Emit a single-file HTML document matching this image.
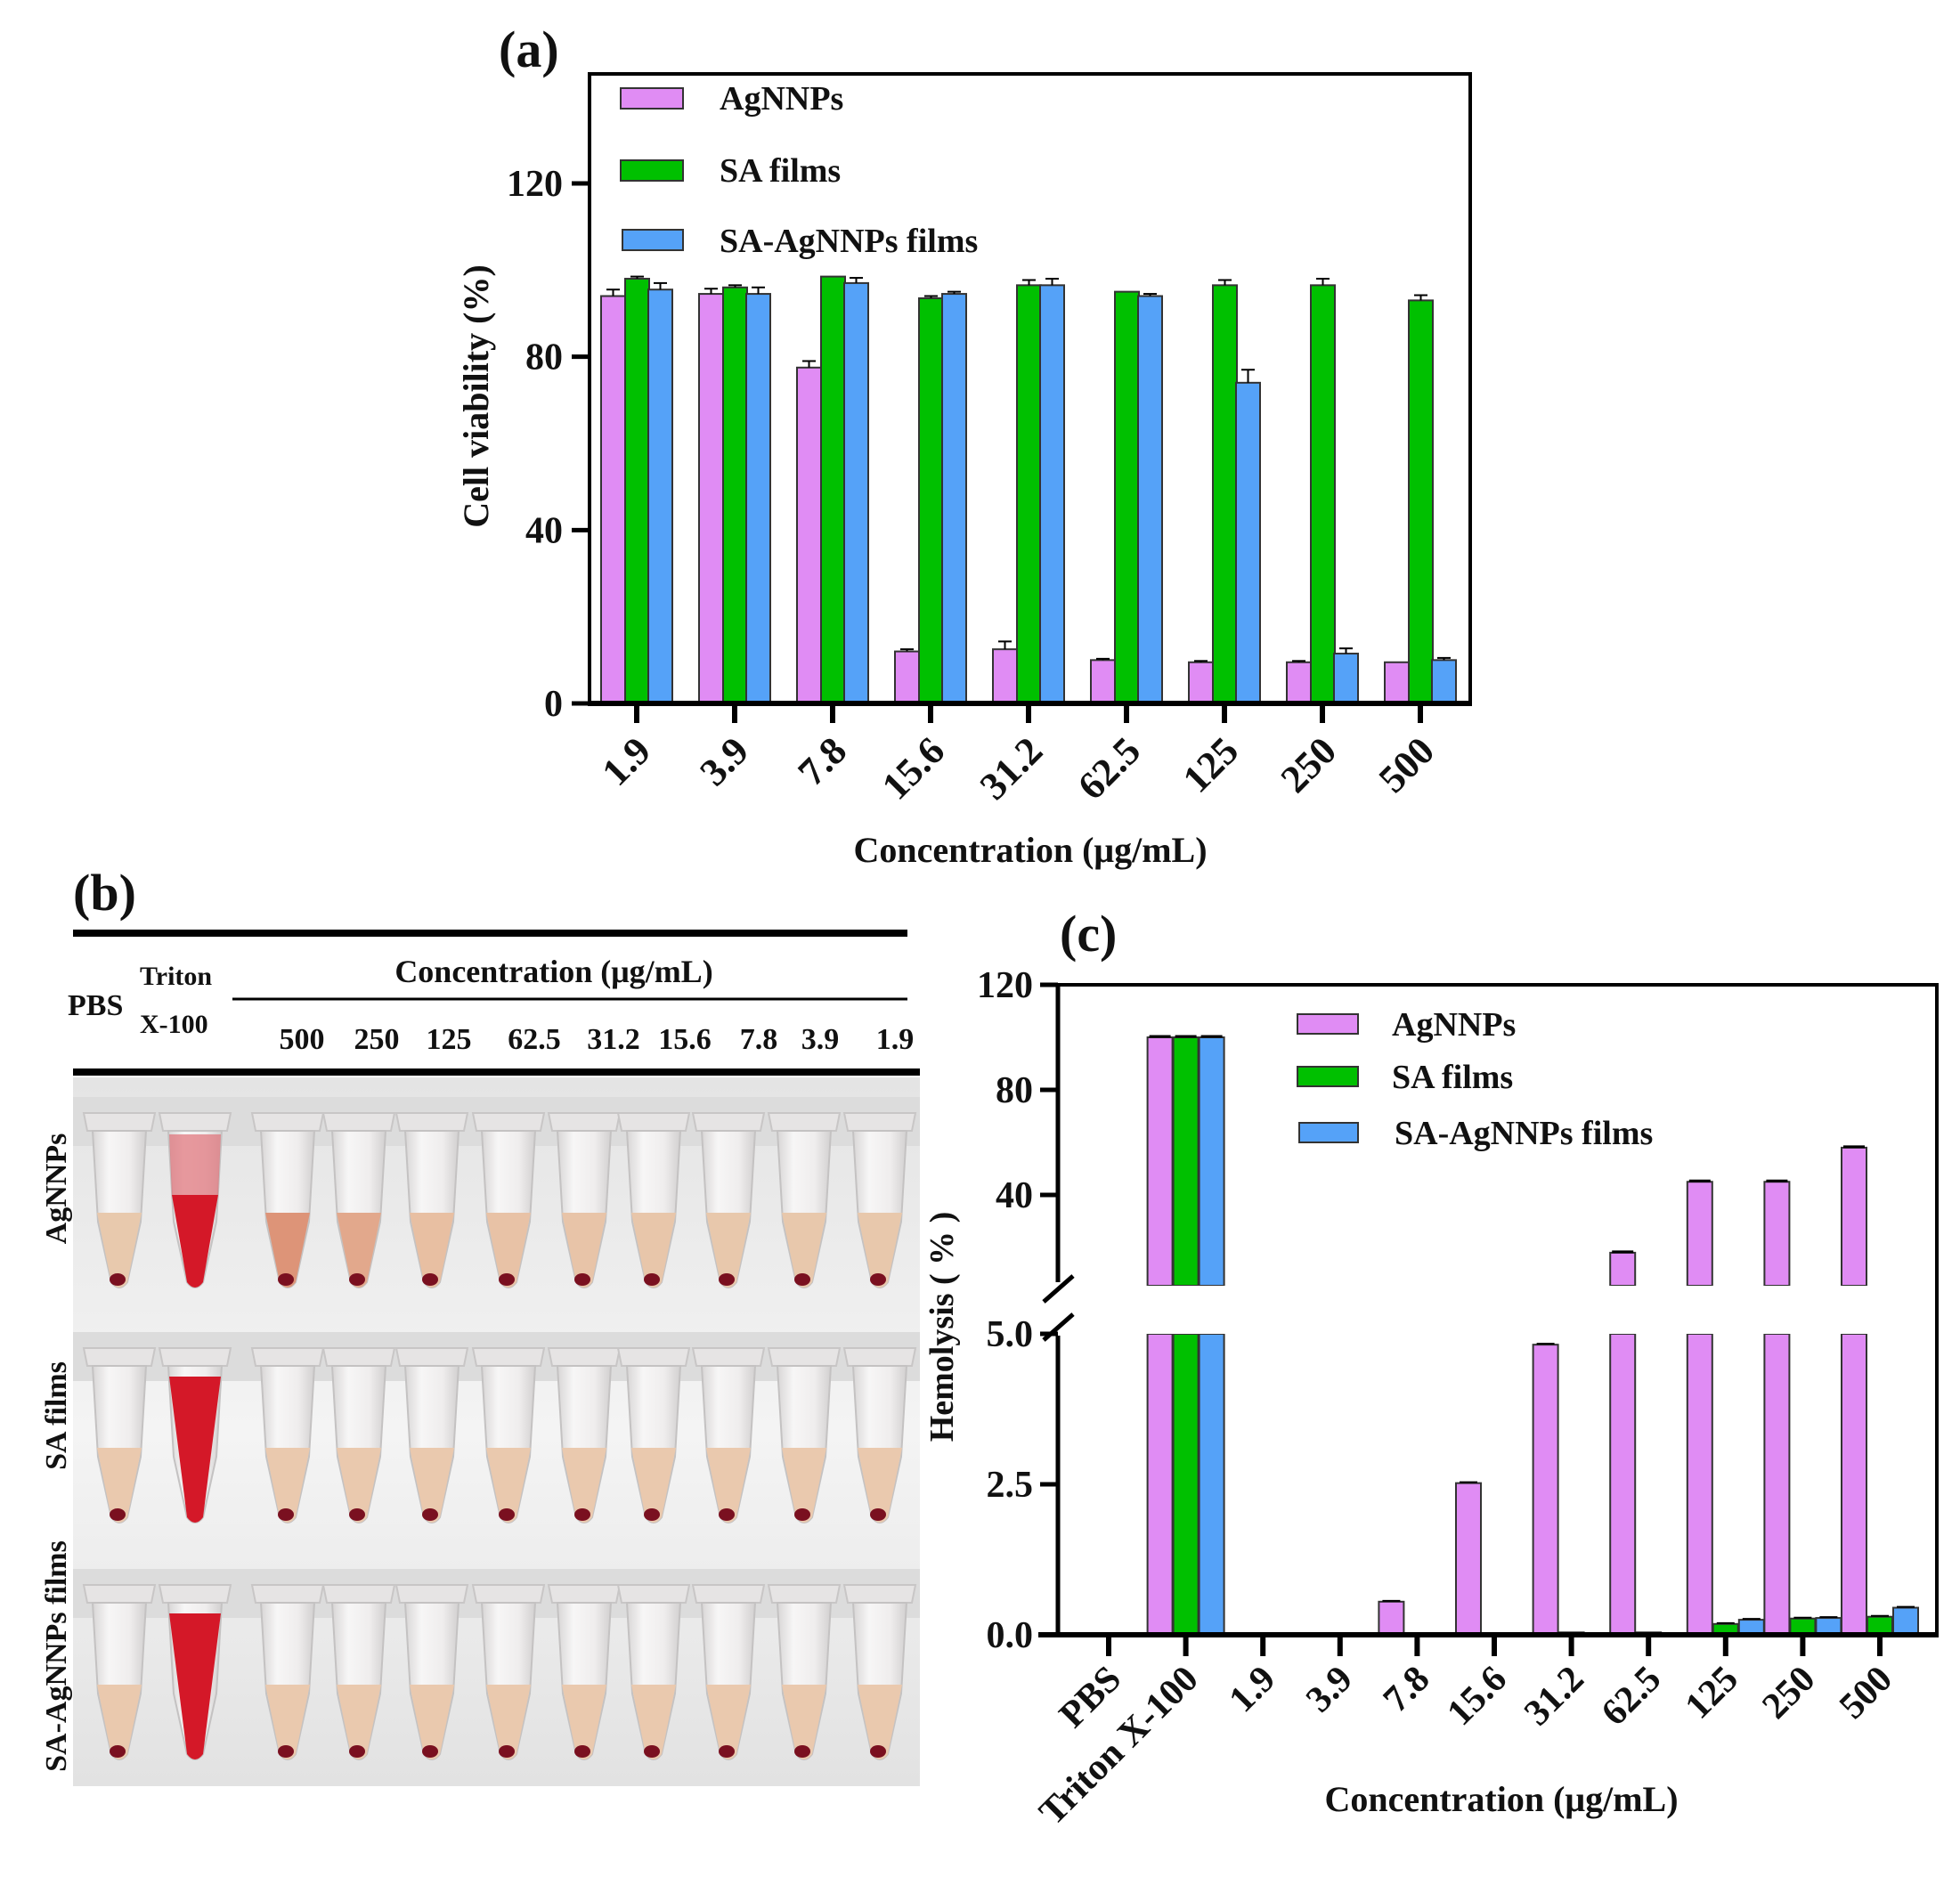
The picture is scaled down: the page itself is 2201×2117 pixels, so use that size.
<!DOCTYPE html>
<html><head><meta charset="utf-8">
<style>
html,body{margin:0;padding:0;background:#fff;}
svg{display:block;}
text{font-family:"Liberation Serif",serif;font-weight:bold;fill:#111;}
</style></head>
<body>
<svg id="s" width="2201" height="2117" viewBox="0 0 2201 2117" xmlns="http://www.w3.org/2000/svg">
<defs>
<linearGradient id="bg" x1="0" y1="0" x2="0" y2="1">
<stop offset="0" stop-color="#e4e4e4"/><stop offset="0.5" stop-color="#f4f4f4"/><stop offset="1" stop-color="#e2e2e2"/>
</linearGradient>
<linearGradient id="tube" x1="0" y1="0" x2="1" y2="0">
<stop offset="0" stop-color="#d8d6d6"/><stop offset="0.3" stop-color="#f7f6f6"/><stop offset="0.7" stop-color="#efeded"/><stop offset="1" stop-color="#d2d0d0"/>
</linearGradient>
</defs>
<g id="g"></g>
</svg>
<script>
(function(){
var o='';
function R(x,y,w,h,f,s,sw){o+='<rect x="'+x+'" y="'+y+'" width="'+w+'" height="'+h+'" fill="'+f+'"'+(s?' stroke="'+s+'" stroke-width="'+(sw||2)+'"':'')+'/>';}
function L(x1,y1,x2,y2,w,c){o+='<line x1="'+x1+'" y1="'+y1+'" x2="'+x2+'" y2="'+y2+'" stroke="'+(c||'#000')+'" stroke-width="'+w+'"/>';}
function T(x,y,s,t,a,tr){o+='<text x="'+x+'" y="'+y+'" font-size="'+s+'"'+(a?' text-anchor="'+a+'"':'')+(tr?' transform="'+tr+'"':'')+'>'+t+'</text>';}
var P='#e08cf4',G='#00c000',B='#55a2f8',ST='#333';
// ===== Panel (a)
T(560,75,58,'(a)');
var y0=790,k=4.867;
var A=[[94,98,95.5],[94.5,96,94.5],[77.5,98.5,97],[12,93.5,94.5],[12.5,96.5,96.5],[10,95,94],[9.5,96.5,74],[9.5,96.5,11.5],[9.5,93,10]];
var E=[[1.5,0.5,1.5],[1.2,0.5,1.5],[1.5,0,1.2],[0.5,0.5,0.5],[1.8,1.2,1.5],[0.3,0,0.5],[0.3,1.2,3],[0.3,1.5,1.2],[0,1.2,0.5]];
var lab=['1.9','3.9','7.8','15.6','31.2','62.5','125','250','500'];
for(var i=0;i<9;i++){var c=715+110*i;var xs=[c-40,c-13,c+13],cols=[P,G,B];
 for(var j=0;j<3;j++){var v=A[i][j],yt=y0-v*k;R(xs[j],yt,27,y0-yt,cols[j],ST,2);
  if(E[i][j]>0){var ye=yt-E[i][j]*k;L(xs[j]+13.5,ye,xs[j]+13.5,yt,2);L(xs[j]+6,ye,xs[j]+21,ye,2);}}
 L(c,y0,c,y0+22,6);
 T(c+18,y0+56,44,lab[i],'end','rotate(-45 '+(c+18)+' '+(y0+56)+')');
}
R(662,83,989,707,'none','#000',4);
L(660,y0,1653,y0,6);
[[0,'0'],[40,'40'],[80,'80'],[120,'120']].forEach(function(t){var y=y0-t[0]*k;L(642,y,662,y,5);T(632,y+14,42,t[1],'end');});
T(0,0,40,'Cell viability (%)','middle','translate(548 445) rotate(-90)');
T(1157,968,40,'Concentration (μg/mL)','middle');
R(697,99,70,23,P,ST,2);R(697,180,70,23,G,ST,2);R(699,258,68,23,B,ST,2);
T(808,123,38,'AgNNPs');T(808,204,38,'SA films');T(808,283,38,'SA-AgNNPs films');
// ===== Panel (c)
T(1190,1068,58,'(c)');
function yU(v){return 1460-2.95*v;} function yL(v){return 1836-67.6*v;}
var C=[[0,0,0],[100,100,100],[0.02,0.02,0.02],[0.02,0.02,0.02],[0.55,0.02,0.02],[2.52,0.02,0.02],[4.82,0.04,0.02],[18,0.04,0.02],[45,0.18,0.25],[45,0.27,0.28],[58,0.3,0.45]];
var lc=['PBS','Triton X-100','1.9','3.9','7.8','15.6','31.2','62.5','125','250','500'];
var UB=1444,LT=1498,yb=1836;
for(var i=0;i<11;i++){var c=1245+86.6*i;var xs=[c-43,c-14,c+15],cols=[P,G,B];
 for(var j=0;j<3;j++){var v=C[i][j];if(v<=0.005)continue;
  if(v<=5){var yt=yL(v);R(xs[j],yt,28,yb-yt,cols[j],ST,2);if(v>0.1)L(xs[j]+4,yt-1,xs[j]+24,yt-1,2);}
  else{R(xs[j],LT,28,yb-LT,cols[j],ST,2);var yt=yU(v);R(xs[j],yt,28,UB-yt,cols[j],ST,2);o+='<rect x="'+(xs[j]-2)+'" y="'+(UB)+'" width="32" height="'+(LT-UB)+'" fill="#fff"/>';L(xs[j]+2,yt-1,xs[j]+26,yt-1,3);}
 }
 L(c,yb,c,yb+24,6);
 T(c+16,yb+52,42,lc[i],'end','rotate(-45 '+(c+16)+' '+(yb+52)+')');
}
L(1168,1106,2175,1106,4);L(2175,1104,2175,yb,4);L(1188,1104,1188,1440,5);L(1188,1500,1188,yb,5);
L(1166,yb,2177,yb,6);
L(1172,1462,1205,1433,5);L(1172,1505,1205,1476,5);
[[120,'120'],[80,'80'],[40,'40']].forEach(function(t){var y=yU(t[0]);L(1168,y,1188,y,5);T(1160,y+14,42,t[1],'end');});
[[5,'5.0'],[2.5,'2.5'],[0,'0.0']].forEach(function(t){var y=yL(t[0]);L(1168,y,1188,y,5);T(1160,y+14,42,t[1],'end');});
T(0,0,38,'Hemolysis ( % )','middle','translate(1070 1490) rotate(-90)');
T(1686,2034,40,'Concentration (μg/mL)','middle');
R(1457,1139,68,22,P,ST,2);R(1457,1198,68,22,G,ST,2);R(1459,1261,66,22,B,ST,2);
T(1563,1163,38,'AgNNPs');T(1563,1222,38,'SA films');T(1566,1285,38,'SA-AgNNPs films');
// ===== Panel (b)
T(82,1022,58,'(b)');
R(82,1044,937,8,'#000');
T(76,1140,34,'PBS');T(157,1106,30,'Triton');T(157,1160,30,'X-100');
T(622,1103,36,'Concentration (μg/mL)','middle');
L(261,1122,1019,1122,3);
var nums=[['500',339],['250',423],['125',504],['62.5',600],['31.2',689],['15.6',769],['7.8',852],['3.9',921],['1.9',1005]];
nums.forEach(function(n){T(n[1],1178,34,n[0],'middle');});
R(82,1200,951,8,'#000');
R(82,1210,951,796,'url(#bg)');
var tx=[134,219,323,403,485,571,656,734,818,903,988];
var rows=[1212,1476,1742];
var liqA=['#e8c9ad','#d41828','#dd9478','#e2a88c','#e8bfa2','#e8c2a6','#e8c4a8','#e8c6aa','#e8c8ac','#e8c8ac','#e8c8ac'];
for(var r=0;r<3;r++){var ry=rows[r];
 R(82,ry+20,951,55,'#dcdcdc');
 for(var i=0;i<11;i++){var cx=tx[i];
  o+='<path d="M'+(cx-40)+','+(ry+38)+' L'+(cx+40)+','+(ry+38)+' L'+(cx+36)+','+(ry+58)+' L'+(cx-36)+','+(ry+58)+' Z" fill="#e6e4e4" stroke="#c8c6c6" stroke-width="2"/>';
  var body='M'+(cx-30)+','+(ry+58)+' L'+(cx+30)+','+(ry+58)+' L'+(cx+24)+','+(ry+160)+' L'+(cx+9)+','+(ry+228)+' Q'+cx+','+(ry+240)+' '+(cx-9)+','+(ry+228)+' L'+(cx-24)+','+(ry+160)+' Z';
  o+='<path d="'+body+'" fill="url(#tube)" stroke="#c4c2c2" stroke-width="2"/>';
  var red=(i==1);var col=r==0?liqA[i]:(red?'#d41828':'#eac9ae');
  var lt=red?(r==0?ry+130:ry+70):ry+150;
  var wt=red?(r==0?26:29):25;
  o+='<path d="M'+(cx-wt)+','+lt+' L'+(cx+wt)+','+lt+' L'+(cx+9)+','+(ry+228)+' Q'+cx+','+(ry+240)+' '+(cx-9)+','+(ry+228)+' Z" fill="'+col+'"/>';
  if(red&&r==0)o+='<path d="M'+(cx-29)+','+(ry+62)+' L'+(cx+29)+','+(ry+62)+' L'+(cx+26)+','+(ry+130)+' L'+(cx-26)+','+(ry+130)+' Z" fill="#e07078" opacity="0.7"/>';
  if(!red)o+='<ellipse cx="'+(cx-2)+'" cy="'+(ry+225)+'" rx="9" ry="7" fill="#7a1020"/>';
 }
}
T(0,0,34,'AgNNPs','middle','translate(74 1335) rotate(-90)');
T(0,0,34,'SA films','middle','translate(74 1590) rotate(-90)');
T(0,0,34,'SA-AgNNPs films','middle','translate(74 1860) rotate(-90)');
document.getElementById('g').innerHTML=o;
})();
</script>
</body></html>
